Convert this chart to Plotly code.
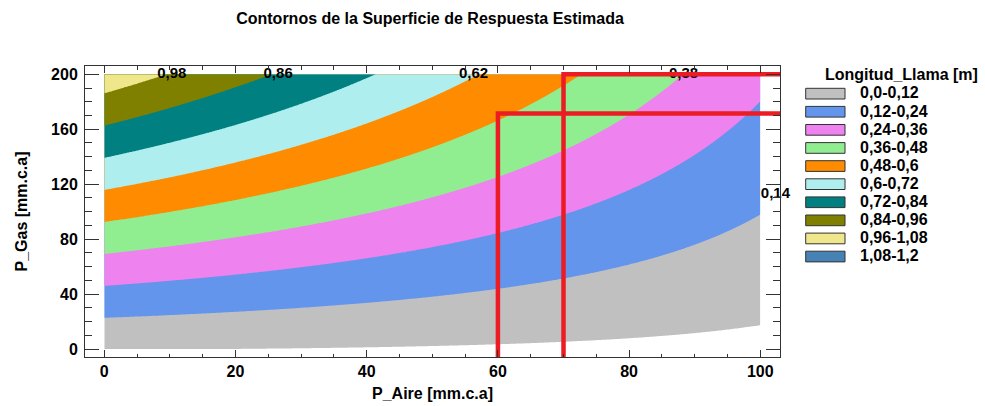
import numpy as np
import plotly.graph_objects as go

FONT = "Liberation Sans, Arial, sans-serif"

# Contour bands of Longitud_Llama [m]
band_labels = ["0,0-0,12", "0,12-0,24", "0,24-0,36", "0,36-0,48", "0,48-0,6",
               "0,6-0,72", "0,72-0,84", "0,84-0,96", "0,96-1,08", "1,08-1,2"]
band_colors = ["#C0C0C0", "#6495ED", "#EE82EE", "#90EE90", "#FF8C00",
               "#AFEEEE", "#008080", "#808000", "#F0E68C", "#4682B4"]
level_start, level_end, level_step = 0.0, 1.2, 0.12

# Points lying on the contour boundaries: level, P_Aire, P_Gas
cross_level = ([0.00] * 10 + [0.12] * 10 + [0.24] * 8 + [0.36] * 9 +
               [0.48] * 8 + [0.60] * 8 + [0.72] * 6 + [0.84] * 4 + [0.96] * 2)
cross_aire = [0, 20, 34.4, 44.5, 54.7, 59.8, 70, 80, 90.3, 100,
              0, 20, 34.4, 40, 60, 70, 75.5, 80, 90.8, 100,
              0, 20, 34.4, 40, 60, 69.4, 80, 100,
              0, 20, 29.8, 34.4, 45, 60, 77, 80, 87.2,
              0, 14.6, 20, 29.8, 34.4, 45, 60, 71,
              0, 14.6, 20, 29.8, 34.4, 45, 55.2, 57.5,
              0, 14.6, 20, 29.8, 34.4, 40.2,
              0, 14.6, 20, 24.5,
              0, 7.7]
cross_gas = [0.5, 0.7, 0.5, 1.2, 2.2, 3.4, 5.3, 7.8, 11.4, 16.2,
             21.6, 26.9, 31.8, 33.3, 44.2, 51.2, 57.0, 62.4, 76.4, 96.5,
             45.1, 54.8, 62.2, 63.6, 85.2, 100.0, 117.0, 177.8,
             68.9, 82.0, 89.5, 92.7, 106.1, 130.0, 158.2, 166.7, 200,
             92.5, 104.3, 109.0, 118.2, 124.7, 140.0, 170.0, 200,
             116.0, 130.8, 134.0, 149.8, 155.8, 170.0, 187.3, 200,
             139.8, 157.0, 157.5, 180.0, 186.6, 200,
             162.9, 183.7, 181.3, 200,
             186.9, 200]

# Contour value labels
label_text = ["0,98", "0,86", "0,62", "0,38", "0,14"]
label_aire = [10.3, 26.5, 56.3, 88.3, 102.3]
label_gas = [200, 200, 200, 200, 112.9]

# Operating reference lines
ref_aire = [60, 70]
ref_gas = [171.5, 200]

# Second-order response surface fitted to the boundary points
xa = np.array(cross_aire, float)
yg = np.array(cross_gas, float)
zl = np.array(cross_level, float)
design = np.column_stack([np.ones_like(xa), xa, yg, xa * xa, xa * yg, yg * yg])
coef, *_ = np.linalg.lstsq(design, zl, rcond=None)

grid_x = np.linspace(0, 100, 401)
grid_y = np.linspace(0, 200, 801)
GX, GY = np.meshgrid(grid_x, grid_y)
GZ = (coef[0] + coef[1] * GX + coef[2] * GY + coef[3] * GX * GX
      + coef[4] * GX * GY + coef[5] * GY * GY)

# Discrete colour steps: below the first level stays white
steps = ["#FFFFFF"] + band_colors + [band_colors[-1]]
colorscale = [[i / (len(steps) - 1), c] for i, c in enumerate(steps)]

x_range = [-2.94, 103.0]
y_range = [-5.82, 206.05]

fig = go.Figure()
fig.add_trace(go.Contour(
    x=grid_x, y=grid_y, z=GZ,
    autocontour=False,
    contours=dict(start=level_start, end=level_end, size=level_step,
                  coloring="fill", showlines=False),
    line=dict(width=0),
    colorscale=colorscale, showscale=False, hoverinfo="skip",
))
fig.add_trace(go.Scatter(
    x=label_aire, y=label_gas, mode="text", text=label_text,
    textfont=dict(family=FONT, size=15, color="black", weight="bold"),
    cliponaxis=False, showlegend=False, hoverinfo="skip",
))
for a, g in zip(ref_aire, ref_gas):
    fig.add_trace(go.Scatter(
        x=[a, a, x_range[1]], y=[y_range[0], g, g], mode="lines",
        line=dict(color="#EC1C24", width=4.5),
        showlegend=False, hoverinfo="skip",
    ))

# Plot area in pixels
L, R, T, B = 85, 780, 66, 357


def px_x(p):
    return (p - L) / (R - L)


def px_y(p):
    return (B - p) / (B - T)


shapes = []
annotations = []
annotations.append(dict(
    text="Longitud_Llama [m]", x=px_x(901), y=px_y(74), xref="paper", yref="paper",
    xanchor="center", yanchor="middle", showarrow=False,
    font=dict(family=FONT, size=16, color="black", weight="bold"),
))
for k, (lab, col) in enumerate(zip(band_labels, band_colors)):
    top = 88.3 + 18.1 * k
    shapes.append(dict(
        type="rect", xref="paper", yref="paper",
        x0=px_x(805.7), x1=px_x(845), y0=px_y(top + 10.7), y1=px_y(top),
        fillcolor=col, line=dict(color="#333333", width=1),
    ))
    annotations.append(dict(
        text=lab, x=px_x(858), y=px_y(top + 4.6), xref="paper", yref="paper",
        xanchor="left", yanchor="middle", showarrow=False,
        font=dict(family=FONT, size=16, color="black", weight="bold"),
    ))

axis_common = dict(
    ticks="inside", tickwidth=1, tickcolor="#333333",
    showline=True, linecolor="#333333", linewidth=1, mirror="allticks",
    showgrid=False, zeroline=False, automargin=False,
    tickfont=dict(family=FONT, size=16, color="black", weight="bold"),
)

fig.update_layout(
    width=985, height=406,
    margin=dict(l=L, r=985 - R, t=T, b=406 - B, autoexpand=False),
    paper_bgcolor="white", plot_bgcolor="white",
    showlegend=False,
    title=dict(
        text="Contornos de la Superficie de Respuesta Estimada",
        x=430 / 985, xref="container", xanchor="center",
        y=1 - 18 / 406, yref="container", yanchor="middle",
        font=dict(family=FONT, size=16, color="black", weight="bold"),
    ),
    xaxis=dict(
        range=x_range, tick0=0, dtick=20, ticklen=7,
        minor=dict(dtick=5, tick0=0, ticks="inside", ticklen=3.5,
                   tickcolor="#333333", showgrid=False),
        title=dict(text="P_Aire [mm.c.a]", standoff=8,
                   font=dict(family=FONT, size=16, color="black", weight="bold")),
        **axis_common,
    ),
    yaxis=dict(
        range=y_range, tick0=0, dtick=40, ticklen=14,
        ticklabelstandoff=3,
        minor=dict(dtick=10, tick0=0, ticks="inside", ticklen=7,
                   tickcolor="#333333", showgrid=False),
        title=dict(text="P_Gas [mm.c.a]", standoff=19,
                   font=dict(family=FONT, size=16, color="black", weight="bold")),
        **axis_common,
    ),
    shapes=shapes,
    annotations=annotations,
)

fig.write_html("out.html")
